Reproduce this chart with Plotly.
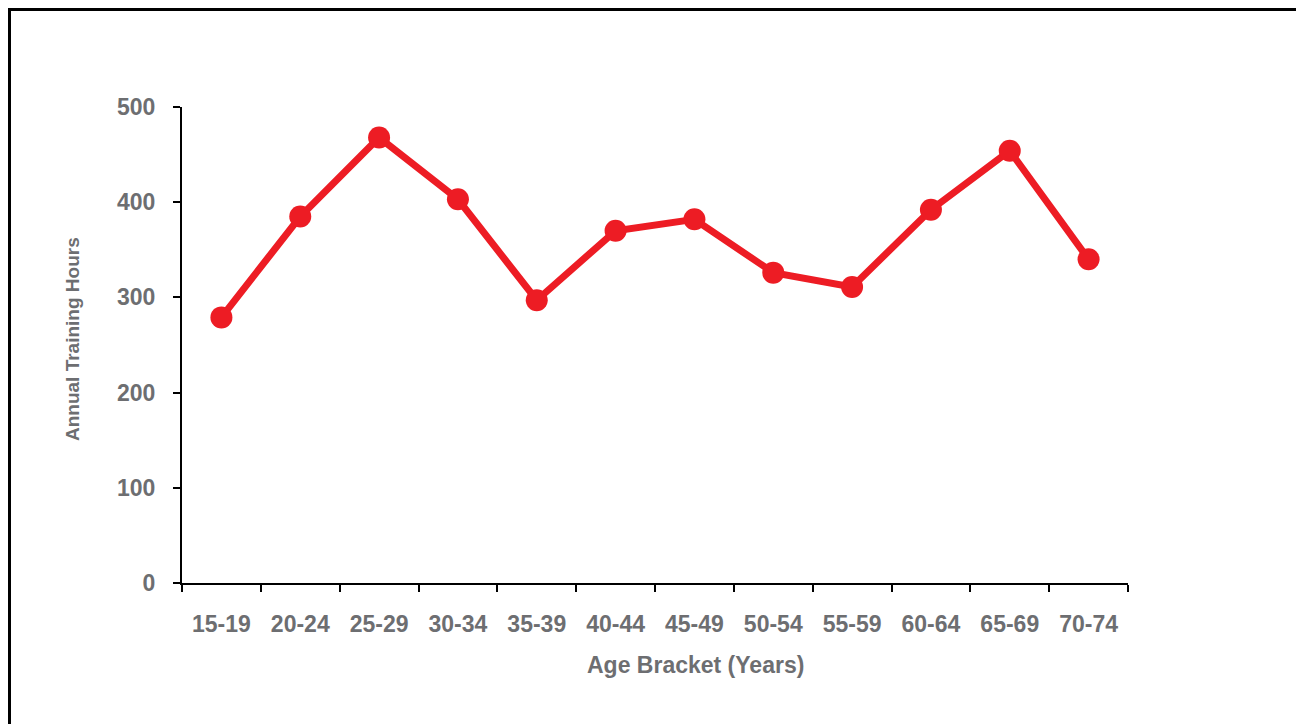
import plotly.graph_objects as go

categories = ["15-19", "20-24", "25-29", "30-34", "35-39", "40-44",
              "45-49", "50-54", "55-59", "60-64", "65-69", "70-74"]
hours = [279, 385, 468, 403, 297, 370, 382, 326, 311, 392, 454, 340]
y_ticks = [0, 100, 200, 300, 400, 500]

RED = "#ED1C24"
GRAY = "#6D6E71"
FONT = "Liberation Sans, Arial, Helvetica, sans-serif"

# page body has an 8px margin; compensate so the plot lands where intended
OFF = 8
W, H = 1304, 724
PL, PR, PT, PB = 182, 1128, 107, 583  # plot area in page pixels
pw, ph = PR - PL, PB - PT
L, T = PL - OFF, PT - OFF
R, B = W - L - pw, H - T - ph


def px(xp):
    return (xp - PL) / pw


def py(yp):
    return (PB - yp) / ph


fig = go.Figure()
fig.add_trace(go.Scatter(
    x=categories, y=hours, mode="lines+markers",
    line=dict(color=RED, width=7),
    marker=dict(color=RED, size=22),
    showlegend=False, cliponaxis=False,
))

fig.update_layout(
    width=W, height=H,
    margin=dict(l=L, r=R, t=T, b=B, pad=0),
    paper_bgcolor="white", plot_bgcolor="white",
    font=dict(family=FONT, color=GRAY, size=23, weight="bold"),
    xaxis=dict(
        type="category", range=[-0.5, 11.5], tickson="boundaries",
        showline=True, linecolor="black", linewidth=2,
        ticks="outside", ticklen=7, tickcolor="black", tickwidth=2,
        showgrid=False, zeroline=False, ticklabelstandoff=19,
        tickfont=dict(family=FONT, color=GRAY, size=23, weight="bold"),
    ),
    yaxis=dict(
        range=[0, 500], tickvals=y_ticks,
        showline=True, linecolor="black", linewidth=2,
        ticks="outside", ticklen=7, tickcolor="black", tickwidth=2,
        showgrid=False, zeroline=False, ticklabelstandoff=13,
        tickfont=dict(family=FONT, color=GRAY, size=23, weight="bold"),
    ),
    annotations=[
        dict(text="Age Bracket (Years)", xref="paper", yref="paper",
             x=px(695), y=py(665), showarrow=False,
             xanchor="center", yanchor="middle",
             font=dict(family=FONT, color=GRAY, size=23, weight="bold")),
        dict(text="Annual Training Hours", xref="paper", yref="paper",
             x=px(72), y=py(339), showarrow=False,
             textangle=-90, xanchor="center", yanchor="middle",
             font=dict(family=FONT, color=GRAY, size=19, weight="bold")),
    ],
    shapes=[
        dict(type="rect", xref="paper", yref="paper",
             x0=px(OFF + 1.5), x1=px(W + 40), y0=py(H + 40), y1=py(OFF + 1.5),
             line=dict(color="black", width=3), fillcolor="rgba(0,0,0,0)",
             layer="below"),
    ],
)

fig.write_html("out.html")
